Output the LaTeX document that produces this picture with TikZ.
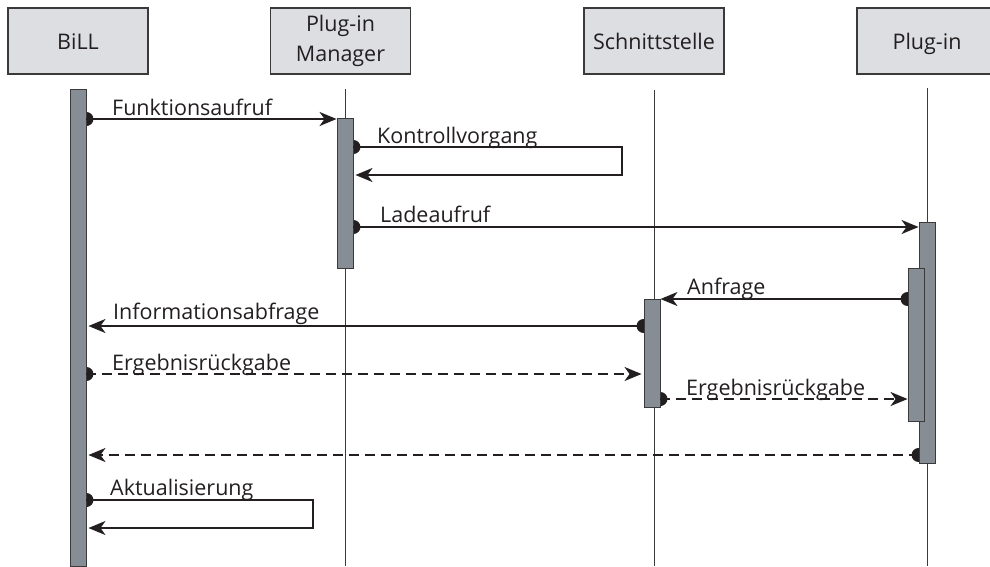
\documentclass[tikz,border=0pt]{standalone}
\usepackage{fontspec}
\setmainfont{Open Sans}
\usetikzlibrary{arrows.meta}
\definecolor{ink}{HTML}{231F20}
\definecolor{headfill}{HTML}{DCDEE2}
\definecolor{barfill}{HTML}{878D94}
\definecolor{frame}{HTML}{3A3A3A}
\pgfdeclarelayer{background}
\pgfsetlayers{background,main}

\begin{document}
\begin{tikzpicture}[x=1pt,y=-1pt,
  head/.style={draw=frame, line width=1.2pt, fill=headfill, minimum width=140pt,
    minimum height=66pt, inner sep=0pt, align=center, text=ink,
    font=\fontsize{21.5}{30}\selectfont},
  headone/.style={head, text height=16pt, text depth=0pt},
  life/.style={draw=frame, line width=1pt},
  actbar/.style={draw=frame, line width=0.9pt, fill=barfill, minimum width=16pt, inner sep=0pt},
  msg/.style={draw=ink, line width=2pt, -{Stealth[length=17pt,width=14pt,inset=5pt]}},
  ret/.style={msg, dash pattern=on 10pt off 6pt},
  loopmsg/.style={msg, line join=miter},
  lbl/.style={anchor=base west, inner sep=0pt, text=ink, font=\fontsize{21.5}{26}\selectfont},
  dotstart/.style={fill=ink}
]
\useasboundingbox (0,0) rectangle (990,566);

% participants
\node[headone] (bill) at (78,41) {BiLL};
\node[head] (mgr) at (340.5,41) {Plug-in\\Manager};
\node[headone] (iface) at (654,41) {Schnittstelle};
\node[headone] (plug) at (927,41) {Plug-in};

% lifelines
\coordinate (mgrtop) at (345,89);
\coordinate (mgrend) at (345,566);
\coordinate (iftop) at (654,90);
\coordinate (ifend) at (654,566);
\coordinate (plugtop) at (927,88);
\coordinate (plugend) at (927,566);
\draw[life] (mgrtop) -- (mgrend);
\draw[life] (iftop) -- (ifend);
\draw[life] (plugtop) -- (plugend);

% activation bars
\node[actbar, minimum height=477pt] (billbar) at (78,327.5) {};
\node[actbar, minimum height=150pt] (mgrbar) at (345,193) {};
\node[actbar, minimum height=108pt] (ifbar) at (652,353) {};
\node[actbar, minimum height=241pt] (plugbar) at (927,342.5) {};
\node[actbar, minimum height=153pt] (plugbarb) at (916,344.5) {};

% start dots of the messages, behind the bars
\begin{pgfonlayer}{background}
  \fill[dotstart] (billbar.east |- 0,119) circle[radius=7];
  \fill[dotstart] (mgrbar.east |- 0,147) circle[radius=7];
  \fill[dotstart] (mgrbar.east |- 0,227) circle[radius=7];
  \fill[dotstart] (plugbarb.west |- 0,299) circle[radius=7];
  \fill[dotstart] (ifbar.west |- 0,326) circle[radius=7];
  \fill[dotstart] (billbar.east |- 0,374) circle[radius=7];
  \fill[dotstart] (ifbar.east |- 0,399) circle[radius=7];
  \fill[dotstart] (plugbar.west |- 0,455) circle[radius=7];
  \fill[dotstart] (billbar.east |- 0,500) circle[radius=7];
\end{pgfonlayer}

% messages
\draw[msg] (billbar.east |- 0,119) -- (mgrbar.west |- 0,119);
\node[lbl] (l1) at (112,115) {Funktionsaufruf};

\coordinate (kturn) at (622,147);
\coordinate (kback) at (622,175);
\draw[loopmsg] (mgrbar.east |- 0,147) -- (kturn) -- (kback) -- ([xshift=2pt]mgrbar.east |- 0,175);
\node[lbl] (l2) at (377,143) {Kontrollvorgang};

\draw[msg] (mgrbar.east |- 0,227) -- (plugbar.west |- 0,227);
\node[lbl] (l3) at (380,222) {Ladeaufruf};

\draw[msg] (plugbarb.west |- 0,299) -- (ifbar.east |- 0,299);
\node[lbl] (l4) at (687,294) {Anfrage};

\draw[msg] (ifbar.west |- 0,326) -- ([xshift=2pt]billbar.east |- 0,326);
\node[lbl] (l5) at (113,319) {Informationsabfrage};

\draw[ret] (billbar.east |- 0,374) -- ([xshift=-2pt]ifbar.west |- 0,374);
\node[lbl] (l6) at (112,370) {Ergebnisrückgabe};

\draw[ret] (ifbar.east |- 0,399) -- (plugbarb.west |- 0,399);
\node[lbl] (l7) at (686,395) {Ergebnisrückgabe};

\draw[ret] (plugbar.west |- 0,455) -- ([xshift=2pt]billbar.east |- 0,455);

\coordinate (aturn) at (313,500);
\coordinate (aback) at (313,528);
\draw[loopmsg] (billbar.east |- 0,500) -- (aturn) -- (aback) -- ([xshift=2pt]billbar.east |- 0,528);
\node[lbl] (l9) at (110,495) {Aktualisierung};
\end{tikzpicture}
\end{document}
